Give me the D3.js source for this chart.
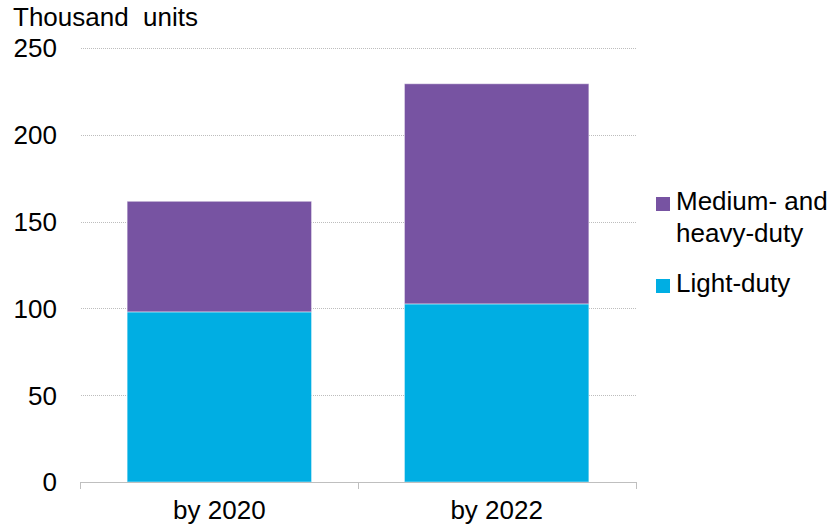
<!DOCTYPE html>
<html lang="en">
<head>
    <meta charset="UTF-8">
    <title>Chart</title>
    <script src="https://cdn.jsdelivr.net/npm/d3@7"></script>
</head>
<body>
    <div class="marco"></div>

    <script>
    // datos
    var categorias = ["by 2020", "by 2022"],
        ligeros = [98, 102.6],
        medianos = [63.7, 126.8],
        yTicks = [0, 50, 100, 150, 200, 250],
        series = ["Light-duty", "Medium- and heavy-duty"],
        colors = ["#00aee3", "#7753a2"];

    var width = 833, height = 526,
        margin = { top: 48, left: 80, bottom: 44, right: 197 },
        innerWidth = width - margin.left - margin.right,
        innerHeight = height - margin.top - margin.bottom;

    var svg = d3.select(".marco").append("svg")
        .attr("width", width)
        .attr("height", height);

    var g = svg.append("g")
        .attr("transform", `translate(${margin.left}, ${margin.top})`);

    var x = d3.scaleBand().domain(categorias).range([0, innerWidth])
            .paddingInner(0.335).paddingOuter(0.17),
        y = d3.scaleLinear().domain([0, 250]).range([innerHeight, 0]);

    var tabla = categorias.map((c, i) => ({ cat: c, "Light-duty": ligeros[i], "Medium- and heavy-duty": medianos[i] }));
    var pila = d3.stack().keys(series)(tabla);

    // rejilla
    g.append("g").selectAll("line")
        .data(yTicks.filter(d => d > 0))
        .enter().append("line")
        .attr("x1", 1).attr("x2", innerWidth)
        .attr("y1", d => Math.round(y(d)) + 0.5).attr("y2", d => Math.round(y(d)) + 0.5)
        .attr("stroke", "#bdbdbd")
        .attr("stroke-dasharray", "1,1");

    // barras
    g.selectAll(".serie")
        .data(pila)
        .enter().append("g")
        .attr("fill", (d, i) => colors[i])
        .selectAll("rect")
        .data(d => d)
        .enter().append("rect")
        .attr("x", d => x(d.data.cat))
        .attr("width", x.bandwidth())
        .attr("y", d => y(d[1]))
        .attr("height", d => y(d[0]) - y(d[1]))
        .attr("stroke", "rgba(255,255,255,0.45)")
        .attr("stroke-width", 1);

    // eje horizontal
    var ejeX = g.append("g").attr("transform", `translate(0, ${innerHeight})`);
    ejeX.append("line").attr("x1", 0).attr("x2", innerWidth).attr("y1", 0.5).attr("y2", 0.5)
        .attr("stroke", "#bfbfbf");
    ejeX.selectAll(".tick")
        .data([0, innerWidth / 2, innerWidth])
        .enter().append("line")
        .attr("x1", d => d + 0.5).attr("x2", d => d + 0.5)
        .attr("y1", 0).attr("y2", 7)
        .attr("stroke", "#bfbfbf");
    ejeX.selectAll("text")
        .data(categorias)
        .enter().append("text")
        .attr("x", d => x(d) + x.bandwidth() / 2)
        .attr("y", 37)
        .attr("text-anchor", "middle")
        .text(d => d);

    // eje vertical
    g.append("g").selectAll("text")
        .data(yTicks)
        .enter().append("text")
        .attr("x", -23)
        .attr("y", d => y(d))
        .attr("dy", "0.36em")
        .attr("text-anchor", "end")
        .text(d => d);

    svg.append("text")
        .attr("x", 13).attr("y", 26)
        .style("white-space", "pre")
        .text("Thousand  units");

    // leyenda
    var leyenda = svg.append("g").attr("transform", "translate(656, 0)");
    leyenda.append("rect").attr("x", 0).attr("y", 197).attr("width", 14).attr("height", 14).attr("fill", colors[1]);
    leyenda.append("text").attr("x", 20).attr("y", 210).text("Medium- and");
    leyenda.append("text").attr("x", 20).attr("y", 242).text("heavy-duty");
    leyenda.append("rect").attr("x", 0).attr("y", 279).attr("width", 14).attr("height", 14).attr("fill", colors[0]);
    leyenda.append("text").attr("x", 20).attr("y", 292).text("Light-duty");
    </script>

    <style>
    html, body { padding: 0; margin: 0; background-color: #fff; }
    svg { display: block; }
    text { font-family: "Liberation Sans", Arial, sans-serif; font-size: 26px; fill: #000; }
    </style>
</body>
</html>
